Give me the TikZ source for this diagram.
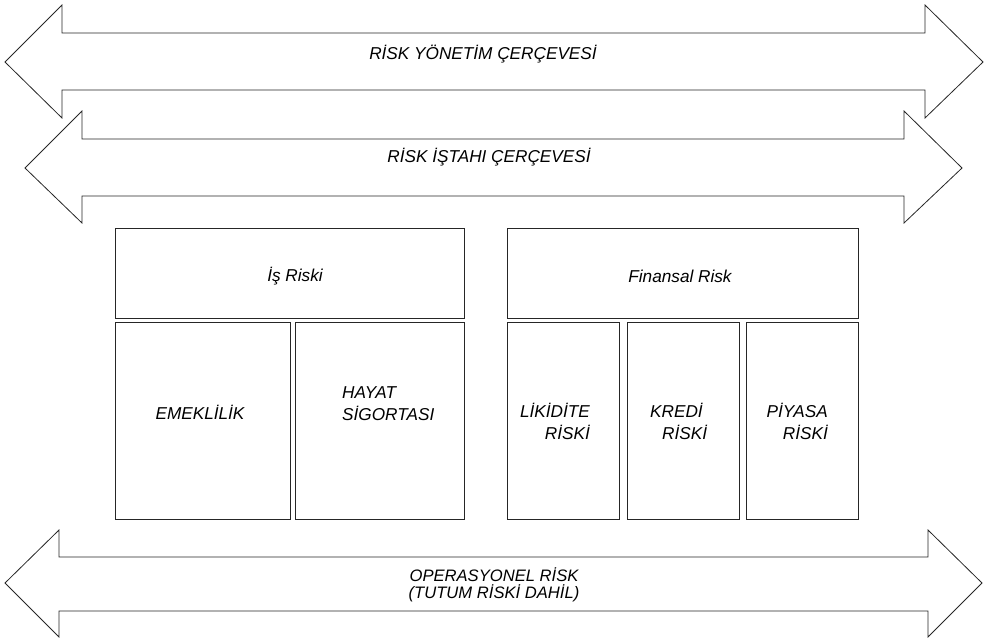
\documentclass[tikz,border=0pt]{standalone}
\usepackage{fontspec}
\setmainfont{Liberation Sans}
\begin{document}
\begin{tikzpicture}[x=1pt,y=-1pt,
  outline/.style={draw=black!85,line width=0.8pt,line join=miter},
  box/.style={draw=black!85,line width=0.8pt,inner sep=0pt,anchor=north west},
  lbl/.style={font=\fontsize{17.2}{22}\selectfont\itshape,inner sep=0pt},
  lbla/.style={font=\fontsize{16.6}{17}\selectfont\itshape,inner sep=0pt,align=center}]
\useasboundingbox (0,0) rectangle (985,641);
% arrows
\draw[outline] (5,62) -- (62,5) -- (62,33) -- (925,33) -- (925,5) -- (983,62) -- (925,118) -- (925,90) -- (62,90) -- (62,118) -- cycle;
\draw[outline] (25,168) -- (82,111) -- (82,139) -- (904,139) -- (904,111) -- (962,168) -- (904,223) -- (904,196) -- (82,196) -- (82,223) -- cycle;
\draw[outline] (5,583) -- (59,530) -- (59,557) -- (928,557) -- (928,530) -- (982,583) -- (928,637) -- (928,611) -- (59,611) -- (59,637) -- cycle;
\node[lbl] (rym) at (483,54) {RİSK YÖNETİM ÇERÇEVESİ};
\node[lbl] (ric) at (489,157) {RİSK İŞTAHI ÇERÇEVESİ};
\node[lbla] (ops) at (494,585) {OPERASYONEL RİSK\\(TUTUM RİSKİ DAHİL)};
% boxes
\node[box,minimum width=349,minimum height=90] (is) at (115,228) {};
\node[box,minimum width=175,minimum height=197] (eme) at (115,322) {};
\node[box,minimum width=169,minimum height=197] (hay) at (295,322) {};
\node[box,minimum width=351,minimum height=90] (fin) at (507,228) {};
\node[box,minimum width=112,minimum height=197] (lik) at (507,322) {};
\node[box,minimum width=112,minimum height=197] (kre) at (627,322) {};
\node[box,minimum width=112,minimum height=197] (piy) at (746,322) {};
% labels
\node[lbl] (ist) at (295,276) {İş Riski};
\node[lbl] (fint) at (680,276) {Finansal Risk};
\node[lbl] (emet) at (200,412) {EMEKLİLİK};
\node[lbl,align=left,anchor=west] (hayt) at (342,404) {HAYAT\\SİGORTASI};
\node[lbl,align=right,anchor=east] (likt) at (590,421) {LİKİDİTE\\RİSKİ};
\node[lbl,align=left,anchor=west] (kret) at (650,421) {KREDİ\\\hspace*{12pt}RİSKİ};
\node[lbl,align=right,anchor=east] (piyt) at (828,421) {PİYASA\\RİSKİ};
\end{tikzpicture}
\end{document}
